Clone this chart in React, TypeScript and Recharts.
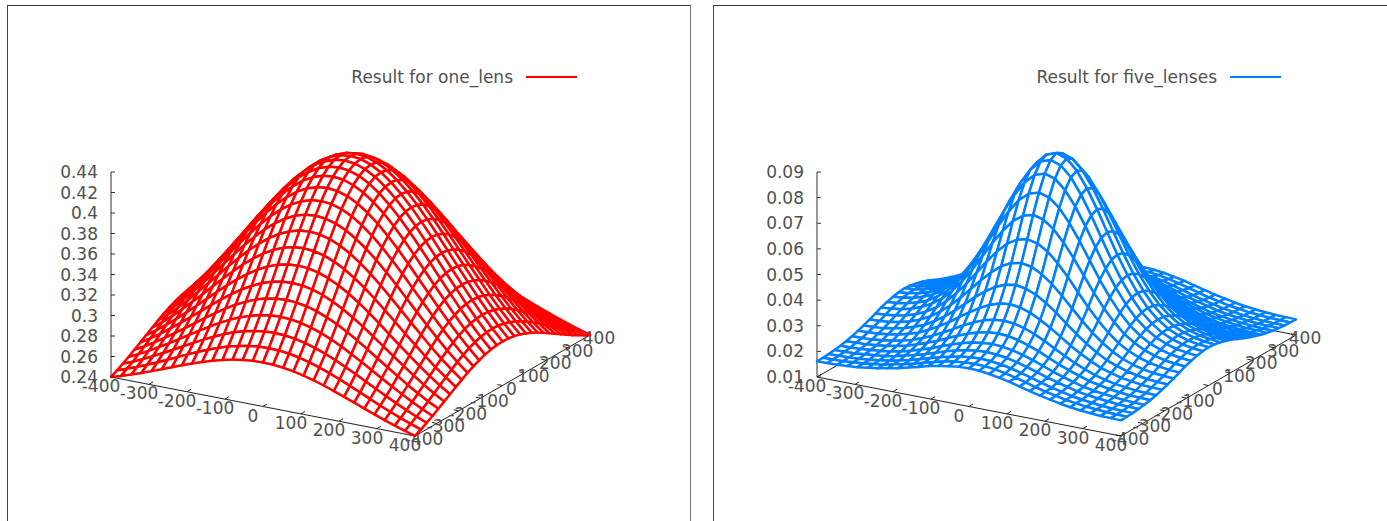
import React from "react";
import { ScatterChart, Scatter, XAxis, YAxis, Legend } from "recharts";

// Heights, one row per grid line counted outward from the
// centre of the surface. Both surfaces look mirror-symmetric about their centre
// lines, so one quadrant (centre to edge) is listed.
const oneLensQuadrant = [
  [.4350,.4340,.4305,.4248,.4170,.4075,.3965,.3843,.3713,.3577,.3441,.3307,.3176,.3051,.2935,.2829],
  [.4340,.4328,.4293,.4237,.4159,.4065,.3955,.3834,.3704,.3570,.3434,.3301,.3170,.3046,.2931,.2826],
  [.4305,.4293,.4259,.4203,.4128,.4034,.3927,.3807,.3680,.3547,.3414,.3283,.3154,.3033,.2920,.2816],
  [.4248,.4237,.4203,.4149,.4075,.3984,.3879,.3763,.3639,.3510,.3381,.3254,.3128,.3010,.2900,.2800],
  [.4170,.4159,.4128,.4075,.4003,.3916,.3815,.3704,.3585,.3460,.3335,.3213,.3094,.2981,.2875,.2777],
  [.4075,.4065,.4034,.3984,.3916,.3833,.3737,.3630,.3517,.3399,.3281,.3166,.3051,.2943,.2843,.2751],
  [.3965,.3955,.3927,.3879,.3815,.3737,.3646,.3546,.3440,.3328,.3217,.3109,.3002,.2900,.2806,.2720],
  [.3843,.3834,.3807,.3763,.3704,.3630,.3546,.3452,.3353,.3250,.3147,.3046,.2946,.2852,.2765,.2685],
  [.3713,.3704,.3680,.3639,.3585,.3517,.3440,.3353,.3262,.3167,.3072,.2980,.2888,.2802,.2722,.2648],
  [.3577,.3570,.3547,.3510,.3460,.3399,.3328,.3250,.3167,.3080,.2994,.2910,.2827,.2749,.2676,.2610],
  [.3441,.3434,.3414,.3381,.3335,.3281,.3217,.3147,.3072,.2994,.2917,.2841,.2767,.2696,.2631,.2571],
  [.3307,.3301,.3283,.3254,.3213,.3166,.3109,.3046,.2980,.2910,.2841,.2774,.2707,.2645,.2586,.2534],
  [.3176,.3170,.3154,.3128,.3094,.3051,.3002,.2946,.2888,.2827,.2767,.2707,.2650,.2595,.2544,.2497],
  [.3051,.3046,.3033,.3010,.2981,.2943,.2900,.2852,.2802,.2749,.2696,.2645,.2595,.2547,.2503,.2463],
  [.2935,.2931,.2920,.2900,.2875,.2843,.2806,.2765,.2722,.2676,.2631,.2586,.2544,.2503,.2466,.2430],
  [.2829,.2826,.2816,.2800,.2777,.2751,.2720,.2685,.2648,.2610,.2571,.2534,.2497,.2463,.2430,.2401],
];

const fiveLensesQuadrant = [
  [.0892,.0878,.0838,.0777,.0703,.0621,.0541,.0469,.0407,.0356,.0319,.0291,.0273,.0260,.0253,.0249],
  [.0878,.0864,.0825,.0765,.0692,.0612,.0534,.0462,.0402,.0352,.0316,.0288,.0270,.0258,.0251,.0247],
  [.0838,.0825,.0788,.0732,.0663,.0588,.0513,.0446,.0389,.0342,.0308,.0282,.0265,.0253,.0247,.0242],
  [.0777,.0765,.0732,.0680,.0618,.0550,.0482,.0421,.0369,.0326,.0295,.0271,.0256,.0245,.0239,.0235],
  [.0703,.0692,.0663,.0618,.0564,.0504,.0444,.0391,.0345,.0307,.0280,.0259,.0245,.0235,.0230,.0227],
  [.0621,.0612,.0588,.0550,.0504,.0452,.0402,.0357,.0318,.0285,.0262,.0244,.0232,.0224,.0219,.0216],
  [.0541,.0534,.0513,.0482,.0444,.0402,.0361,.0323,.0291,.0264,.0244,.0229,.0219,.0212,.0208,.0206],
  [.0469,.0462,.0446,.0421,.0391,.0357,.0323,.0293,.0267,.0244,.0229,.0216,.0208,.0201,.0198,.0196],
  [.0407,.0402,.0389,.0369,.0345,.0318,.0291,.0267,.0246,.0227,.0215,.0204,.0198,.0192,.0190,.0188],
  [.0356,.0352,.0342,.0326,.0307,.0285,.0264,.0244,.0227,.0212,.0202,.0193,.0188,.0183,.0181,.0180],
  [.0319,.0316,.0308,.0295,.0280,.0262,.0244,.0229,.0215,.0202,.0194,.0186,.0181,.0177,.0176,.0174],
  [.0291,.0288,.0282,.0271,.0259,.0244,.0229,.0216,.0204,.0193,.0186,.0180,.0176,.0172,.0170,.0169],
  [.0273,.0270,.0265,.0256,.0245,.0232,.0219,.0208,.0198,.0188,.0181,.0176,.0172,.0168,.0167,.0166],
  [.0260,.0258,.0253,.0245,.0235,.0224,.0212,.0201,.0192,.0183,.0177,.0172,.0168,.0165,.0164,.0163],
  [.0253,.0251,.0247,.0239,.0230,.0219,.0208,.0198,.0190,.0181,.0176,.0170,.0167,.0164,.0163,.0162],
  [.0249,.0247,.0242,.0235,.0227,.0216,.0206,.0196,.0188,.0180,.0174,.0169,.0166,.0163,.0162,.0161],
];

const planeTicks = [-400, -300, -200, -100, 0, 100, 200, 300, 400];
const oneLensZTicks = [0.24, 0.26, 0.28, 0.3, 0.32, 0.34, 0.36, 0.38, 0.4, 0.42, 0.44];
const fiveLensesZTicks = [0.01, 0.02, 0.03, 0.04, 0.05, 0.06, 0.07, 0.08, 0.09];

const GRID = 31;
const FONT = '"DejaVu Sans", sans-serif';
const TEXT = "#505050";
const CHART_W = 683;
const CHART_H = 516;
const PLOT_LEFT = 104;
const PLOT_W = 520;
const PLOT_TOP = 100;
const PLOT_BOTTOM = 460;
const BASE_Y = 372;

const project = (x: number, y: number, z: number, pxPerZ: number) => {
  const u = (x + 400) / 800;
  const v = (y + 400) / 800;
  return { px: 304 * u + 175 * v, w: z - (59 * u - 101 * v) / pxPerZ, x, y, z };
};

function Surface({ points, color }: any) {
  const quads: any[] = [];
  for (let i = GRID - 2; i >= 0; i--) {
    for (let j = 0; j < GRID - 1; j++) {
      const a = points[i * GRID + j];
      const b = points[i * GRID + j + 1];
      const c = points[(i + 1) * GRID + j + 1];
      const d = points[(i + 1) * GRID + j];
      quads.push(
        <path
          key={i * GRID + j}
          d={`M${a.x} ${a.y}L${b.x} ${b.y}L${c.x} ${c.y}L${d.x} ${d.y}Z`}
          fill="#ffffff"
          stroke={color}
          strokeWidth={2.5}
          strokeLinejoin="round"
        />
      );
    }
  }
  return <g>{quads}</g>;
}

function Panel({ quadrant, zTicks, color, name, left, legendRight }: any) {
  const zLow = zTicks[0];
  const zHigh = zTicks[zTicks.length - 1];
  const pxPerZ = 205 / (zHigh - zLow);
  const wAt = (py: number) => zLow + (BASE_Y - py) / pxPerZ;
  const pts: any[] = [];
  for (let i = 0; i < GRID; i++) {
    for (let j = 0; j < GRID; j++) {
      const row = quadrant[Math.abs(i - 15)];
      const z = row[Math.abs(j - 15)];
      pts.push(project(-400 + (j * 800) / 30, -400 + (i * 800) / 30, z, pxPerZ));
    }
  }
  const P = (x: number, y: number) => project(x, y, zLow, pxPerZ);
  const xAxisPts = planeTicks.map((t) => ({ ...P(t, -400), label: String(t) }));
  const yAxisPts = planeTicks.map((t) => ({ ...P(400, t), label: String(t) }));
  const axisStroke = { stroke: "#202020", strokeWidth: 1 };

  const xTickShape = (p: any) => (
    <g>
      <line x1={p.cx} y1={p.cy} x2={p.cx + 4} y2={p.cy - 2.5} {...axisStroke} />
      <text x={p.cx - 10} y={p.cy + 15} textAnchor="middle" fontFamily={FONT} fontSize={17} fill={TEXT}>
        {p.payload.label}
      </text>
    </g>
  );
  const yTickShape = (p: any) => (
    <g>
      <line x1={p.cx} y1={p.cy} x2={p.cx - 5} y2={p.cy - 1} {...axisStroke} />
      <text x={p.cx + 9} y={p.cy + 9} textAnchor="middle" fontFamily={FONT} fontSize={17} fill={TEXT}>
        {p.payload.label}
      </text>
    </g>
  );
  const zTick = (p: any) => (
    <g>
      <line x1={p.x} y1={p.y} x2={p.x + 4} y2={p.y} stroke="#303030" strokeWidth={1} />
      <text x={p.x - 13} y={p.y + 6} textAnchor="end" fontFamily={FONT} fontSize={17} fill={TEXT}>
        {String(p.payload.value)}
      </text>
    </g>
  );
  const none = () => <g />;

  return (
    <div style={{ position: "absolute", left, top: 5, width: CHART_W, height: CHART_H }}>
      <ScatterChart
        width={CHART_W}
        height={CHART_H}
        margin={{ left: PLOT_LEFT - 60, right: CHART_W - PLOT_LEFT - PLOT_W, top: PLOT_TOP, bottom: CHART_H - PLOT_BOTTOM }}
        style={{ overflow: "visible" }}
      >
        <XAxis type="number" dataKey="px" domain={[0, PLOT_W]} hide />
        <YAxis
          type="number"
          dataKey="w"
          width={60}
          domain={[wAt(PLOT_BOTTOM), wAt(PLOT_TOP)]}
          ticks={zTicks}
          interval={0}
          axisLine={false}
          tickLine={false}
          tickSize={0}
          tickMargin={0}
          tick={zTick}
        />
        <Legend
          layout="horizontal"
          verticalAlign="middle"
          align="center"
          wrapperStyle={{ left: 0, top: 60, width: legendRight, height: 24 }}
          content={() => (
            <div style={{ display: "flex", justifyContent: "flex-end", alignItems: "center", height: 24 }}>
              <span style={{ fontFamily: FONT, fontSize: 17, color: TEXT, marginRight: 13, whiteSpace: "nowrap" }}>{name}</span>
              <span style={{ display: "inline-block", width: 51, height: 2, background: color }} />
            </div>
          )}
        />
        <Scatter
          data={[P(-400, -400), P(-400, 400), P(400, 400)]}
          legendType="none"
          shape={none}
          line={axisStroke}
          isAnimationActive={false}
        />
        <Scatter
          data={[{ px: 0, w: zLow }, { px: 0, w: zHigh }]}
          legendType="none"
          shape={none}
          line={{ stroke: "#303030", strokeWidth: 1 }}
          isAnimationActive={false}
        />
        <Scatter data={xAxisPts} legendType="none" shape={xTickShape} line={axisStroke} isAnimationActive={false} />
        <Scatter data={yAxisPts} legendType="none" shape={yTickShape} line={axisStroke} isAnimationActive={false} />
        <Scatter
          name={name}
          data={pts}
          fill={color}
          shape={none}
          line={(lp: any) => <Surface points={lp.points} color={color} />}
          isAnimationActive={false}
        />
      </ScatterChart>
    </div>
  );
}

export default function App() {
  const frame = (left: number, width: number, right: boolean) => (
    <div
      style={{
        position: "absolute",
        left,
        top: 5,
        width,
        height: 530,
        boxSizing: "border-box",
        borderTop: "1px solid #333",
        borderLeft: "1px solid #444",
        borderRight: right ? "1px solid #777" : "none",
      }}
    />
  );
  return (
    <div style={{ position: "absolute", left: 0, top: 0, width: 1387, height: 521, overflow: "hidden", background: "#fff" }}>
      {frame(7, 684, true)}
      {frame(713, 674, false)}
      <Panel quadrant={oneLensQuadrant} zTicks={oneLensZTicks} color="#ff0000" name="Result for one_lens" left={7} legendRight={570} />
      <Panel quadrant={fiveLensesQuadrant} zTicks={fiveLensesZTicks} color="#0080ff" name="Result for five_lenses" left={713} legendRight={568} />
    </div>
  );
}
